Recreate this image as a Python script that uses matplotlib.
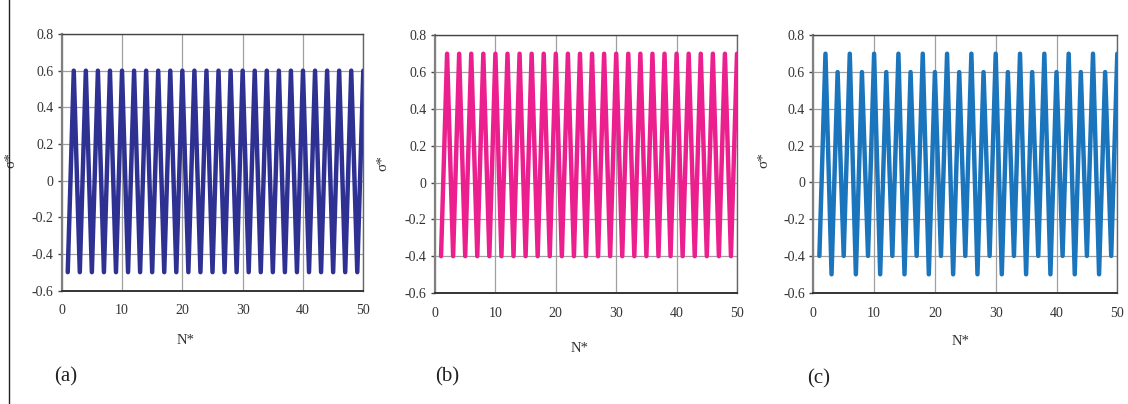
import matplotlib
matplotlib.use("Agg")
import matplotlib.pyplot as plt

plt.rcParams["font.family"] = ["Liberation Serif", "DejaVu Serif"]

# turning points of the load history
n_star = [1, 2, 3, 4, 5, 6, 7, 8, 9, 10,
          11, 12, 13, 14, 15, 16, 17, 18, 19, 20,
          21, 22, 23, 24, 25, 26, 27, 28, 29, 30,
          31, 32, 33, 34, 35, 36, 37, 38, 39, 40,
          41, 42, 43, 44, 45, 46, 47, 48, 49, 50]

sigma_a = [-0.5, 0.6, -0.5, 0.6, -0.5, 0.6, -0.5, 0.6, -0.5, 0.6,
           -0.5, 0.6, -0.5, 0.6, -0.5, 0.6, -0.5, 0.6, -0.5, 0.6,
           -0.5, 0.6, -0.5, 0.6, -0.5, 0.6, -0.5, 0.6, -0.5, 0.6,
           -0.5, 0.6, -0.5, 0.6, -0.5, 0.6, -0.5, 0.6, -0.5, 0.6,
           -0.5, 0.6, -0.5, 0.6, -0.5, 0.6, -0.5, 0.6, -0.5, 0.6]

sigma_b = [-0.4, 0.7, -0.4, 0.7, -0.4, 0.7, -0.4, 0.7, -0.4, 0.7,
           -0.4, 0.7, -0.4, 0.7, -0.4, 0.7, -0.4, 0.7, -0.4, 0.7,
           -0.4, 0.7, -0.4, 0.7, -0.4, 0.7, -0.4, 0.7, -0.4, 0.7,
           -0.4, 0.7, -0.4, 0.7, -0.4, 0.7, -0.4, 0.7, -0.4, 0.7,
           -0.4, 0.7, -0.4, 0.7, -0.4, 0.7, -0.4, 0.7, -0.4, 0.7]

sigma_c = [-0.4, 0.7, -0.5, 0.6, -0.4, 0.7, -0.5, 0.6, -0.4, 0.7,
           -0.5, 0.6, -0.4, 0.7, -0.5, 0.6, -0.4, 0.7, -0.5, 0.6,
           -0.4, 0.7, -0.5, 0.6, -0.4, 0.7, -0.5, 0.6, -0.4, 0.7,
           -0.5, 0.6, -0.4, 0.7, -0.5, 0.6, -0.4, 0.7, -0.5, 0.6,
           -0.4, 0.7, -0.5, 0.6, -0.4, 0.7, -0.5, 0.6, -0.4, 0.7]

x_ticks = [0, 10, 20, 30, 40, 50]
y_ticks = [-0.6, -0.4, -0.2, 0, 0.2, 0.4, 0.6, 0.8]
y_labels = ["-0.6", "-0.4", "-0.2", "0", "0.2", "0.4", "0.6", "0.8"]

W, H = 1128, 404
fig = plt.figure(figsize=(W / 100, H / 100), dpi=100)


def px_axes(left, right, top, bottom):
    return fig.add_axes([left / W, 1 - bottom / H, (right - left) / W, (bottom - top) / H])


panels = [
    # (box px, series, colour, xlabel pos, ylabel pos, tag, tag pos)
    ((61.7, 363.3, 34.0, 290.5), sigma_a, "#2e3192", (0.41, -0.168), (-0.148, 0.508), "(a)", (66, 377)),
    ((435.0, 737.0, 35.3, 293.0), sigma_b, "#ec1f8e", (0.48, -0.19), (-0.152, 0.504), "(b)", (447, 377)),
    ((813.3, 1117.3, 35.3, 292.7), sigma_c, "#1b75bc", (0.483, -0.164), (-0.142, 0.516), "(c)", (819, 379)),
]

for box, sig, col, xl, yl, tag, tpos in panels:
    ax = px_axes(*box)
    ax.plot(n_star, sig, color=col, lw=3.2, solid_joinstyle="round", solid_capstyle="round", zorder=3)
    ax.set_xlim(0, 50)
    ax.set_ylim(-0.6, 0.8)
    ax.set_xticks(x_ticks)
    ax.set_yticks(y_ticks)
    ax.set_yticklabels(y_labels)
    ax.grid(True, color="#a0a0a0", lw=0.9, zorder=0)
    ax.tick_params(axis="x", length=0, pad=10, labelsize=10, labelcolor="#333333")
    ax.tick_params(axis="y", length=3, width=1, pad=3, labelsize=10, labelcolor="#333333", color="#444444")
    ax.spines["left"].set_color("#808080")
    ax.spines["left"].set_linewidth(1.6)
    ax.spines["bottom"].set_color("#333333")
    ax.spines["bottom"].set_linewidth(1.4)
    ax.spines["top"].set_color("#444444")
    ax.spines["top"].set_linewidth(1.0)
    ax.spines["right"].set_color("#666666")
    ax.spines["right"].set_linewidth(1.0)
    ax.set_xlabel("N*", fontsize=10.5, color="#333333")
    ax.xaxis.set_label_coords(*xl)
    ax.set_ylabel("σ*", fontsize=11, color="#333333")
    ax.yaxis.set_label_coords(*yl)
    fig.text(tpos[0] / W, 1 - tpos[1] / H, tag, fontsize=15, color="#222222", ha="center", va="center")

# page border line on the left
fig.add_artist(plt.Line2D([9.3 / W, 9.3 / W], [0, 1], color="#222222", lw=1.0))

fig.savefig("out.png", dpi=100)
